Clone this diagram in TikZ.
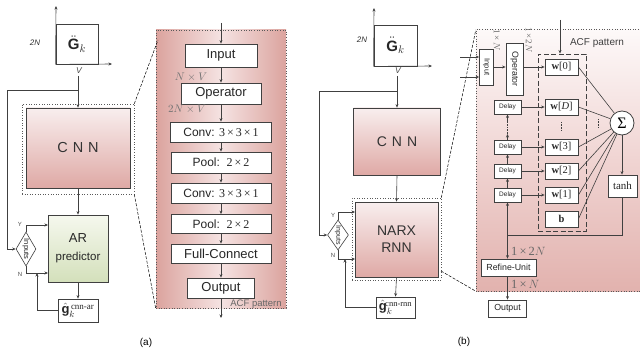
\documentclass[tikz,border=0pt]{standalone}
\usepackage{fontspec}
\usepackage{amsmath}
\setmainfont{Liberation Sans}
\newfontfamily\serfam{Liberation Serif}
\usetikzlibrary{arrows.meta,shapes.geometric,calc}
\newcommand\fsz[1]{\fontsize{#1}{#1}\selectfont}
\newcommand\tx{\,×\,}

\definecolor{edge}{HTML}{404040}
\definecolor{cnnTop}{HTML}{F8EEEE}
\definecolor{cnnBot}{HTML}{DFA9A5}
\definecolor{arTop}{HTML}{F5F8EE}
\definecolor{arBot}{HTML}{D4E0BB}
\definecolor{panEdge}{HTML}{DBA39E}
\definecolor{panMid}{HTML}{F5E3E2}
\definecolor{pbTop}{HTML}{FDF9F9}
\definecolor{pbMid}{HTML}{F0D4D2}
\definecolor{pbBot}{HTML}{E2B2AE}

\begin{document}
\begin{tikzpicture}[x=1pt,y=-1pt,
  box/.style={draw=edge,line width=0.8pt,fill=white,inner sep=0pt,text=black!85},
  conn/.style={draw=edge,line width=0.6pt,-{Stealth[length=3.5pt,width=3pt]}},
  wire/.style={draw=edge,line width=0.6pt},
  zoomline/.style={draw=black,line width=0.5pt,dash pattern=on 3pt off 1.5pt},
  frame/.style={draw=black!65,line width=0.6pt,dotted},
  lbl/.style={inner sep=0pt,text=black!70},
  vtext/.style={rotate=-90,inner sep=0pt,text=black!85}]
\useasboundingbox (0,0) rectangle (640,350);

% ================= (a) =================
% zoomed ACF panel
\node[frame,inner sep=0pt,minimum width=130pt,minimum height=278pt,
      left color=panEdge,right color=panEdge,middle color=panMid] (panA) at (221,169) {};

% input matrix with its axes
\node[box,minimum width=42pt,minimum height=40pt] (gA) at (77,44) {\fsz{15}$\ddot{\mathbf{G}}_k$};
\coordinate (gAtop) at (56,6);
\coordinate (gAright) at (112,64);
\draw[conn] (gA.south west) -- (gAtop);
\draw[conn] (gA.south west) -- (gAright);
\node[lbl,font=\fsz{8}\itshape,text=black!80] at (35,43) {2N};
\node[lbl,font=\fsz{8.5}\itshape] at (79,71) {V};

% CNN block
\node[frame,inner sep=0pt,minimum width=112pt,minimum height=90pt] (dotA) at (78,149) {};
\node[box,minimum width=104pt,minimum height=80pt,top color=cnnTop,bottom color=cnnBot,
      font=\fsz{14.5},text=black!80] (cnnA) at (78,148) {C\hspace{5pt}N\hspace{5pt}N};

% AR predictor
\node[box,minimum width=60pt,minimum height=67pt,top color=arTop,bottom color=arBot,
      align=center,font=\fontsize{13}{18}\selectfont] (arA) at (78,248.5) {AR\\{\fsz{11.5}predictor}};

% input selector
\node[draw=edge,line width=0.6pt,fill=white,diamond,inner sep=0pt,
      minimum width=20pt,minimum height=34pt] (dA) at (26,249) {};
\node[vtext,font=\fsz{7.5}] at (dA) {Inputs};
\node[lbl,font=\fsz{6}] at (20,224) {Y};
\node[lbl,font=\fsz{6}] at (20,274) {N};

% prediction output
\node[box,minimum width=40pt,minimum height=23pt,font=\fsz{13}] (ghA) at (78,310.5)
  {$\hat{\mathbf{g}}_k^{\,\text{\serfam\fsz{9}cnn-ar}}$};

% connectors of (a)
\coordinate (vA) at (78,76);
\coordinate (jA) at (78,90);
\coordinate (lA) at (7,249);
\coordinate (yA) at (48,225);
\coordinate (nA) at (48,273);
\coordinate (nAj) at (37,273);
\draw[conn] (vA) -- (cnnA.north);
\draw[conn] (jA) -| (lA) -- (dA.west);
\draw[conn] (dA.north) |- (yA);
\draw[conn] (dA.south) |- (nA);
\draw[conn] (cnnA.south) -- (arA.north);
\draw[conn] (arA.south) -- (ghA.north);
\draw[conn] (ghA.west) -| (nAj);

% zoom lines
\coordinate (zA) at (158,40);
\draw[zoomline] (dotA.north east) -- (zA);
\draw[zoomline] (dotA.south east) -- (panA.south west);

% layers inside the ACF panel
\begin{scope}[every node/.append style={font=\fsz{13}}]
\node[box,minimum width=72pt,minimum height=23pt] (inA) at (221,55.5) {Input};
\node[box,minimum width=80pt,minimum height=21pt] (opA) at (221,93.5) {Operator};
\node[box,minimum width=101pt,minimum height=20pt] (cv1) at (221,132) {\fsz{12}Conv: {\serfam 3\tx3\tx1}};
\node[box,minimum width=100pt,minimum height=21pt] (pl1) at (221,162.5) {\fsz{12}Pool:\ \ {\serfam 2\tx2}\hspace{12pt}};
\node[box,minimum width=100pt,minimum height=20pt] (cv2) at (221,193) {\fsz{12}Conv: {\serfam 3\tx3\tx1}};
\node[box,minimum width=100pt,minimum height=19pt] (pl2) at (221,224) {\fsz{12}Pool:\ \ {\serfam 2\tx2}\hspace{12pt}};
\node[box,minimum width=100pt,minimum height=19pt] (fc) at (221,253.5) {Full-Connect};
\node[box,minimum width=67pt,minimum height=20pt] (outA) at (221,288) {Output};
\end{scope}
\coordinate (topA) at (221,23);
\coordinate (botA) at (221,318);
\draw[conn] (topA) -- (inA.north);
\draw[conn] (inA.south) -- (opA.north);
\draw[conn] (opA.south) -- (cv1.north);
\draw[conn] (cv1.south) -- (pl1.north);
\draw[conn] (pl1.south) -- (cv2.north);
\draw[conn] (cv2.south) -- (pl2.north);
\draw[conn] (pl2.south) -- (fc.north);
\draw[conn] (fc.south) -- (outA.north);
\draw[conn] (outA.south) -- (botA);
\node[lbl,font=\fsz{10.5},text=black!55] at (191,77) {$N\times V$};
\node[lbl,font=\fsz{10.5},text=black!55] at (187,109) {$2N\times V$};
\node[lbl,font=\fsz{9.5},text=black!60] at (256,304) {ACF pattern};
\node[lbl,font=\fsz{10},text=black] at (146,343) {(a)};

% ================= (b) =================
\node[inner sep=0pt,minimum width=165pt,minimum height=261pt,
      top color=pbTop,bottom color=pbBot,middle color=pbMid] (panB) at (558.5,160.5) {};
\draw[frame] (panB.north east) -- (panB.north west) -- (panB.south west) -- (panB.south east);

% input matrix with its axes
\node[box,minimum width=43pt,minimum height=41pt] (gB) at (395.5,45.5) {\fsz{15}$\ddot{\mathbf{G}}_k$};
\coordinate (gBtop) at (374,8);
\coordinate (gBright) at (432,66);
\draw[conn] (gB.south west) -- (gBtop);
\draw[conn] (gB.south west) -- (gBright);
\node[lbl,font=\fsz{8}\itshape,text=black!80] at (362,40) {2N};
\node[lbl,font=\fsz{8.5}\itshape] at (398,71) {V};

% CNN and NARX RNN
\node[box,minimum width=87pt,minimum height=67pt,top color=cnnTop,bottom color=cnnBot,
      font=\fsz{14},text=black!80] (cnnB) at (397,141.5) {C\hspace{5pt}N\hspace{5pt}N};
\node[frame,inner sep=0pt,minimum width=89pt,minimum height=82pt] (dotB) at (396.5,239) {};
\node[box,minimum width=83pt,minimum height=75pt,top color=cnnTop,bottom color=cnnBot,
      align=center,font=\fontsize{14}{17}\selectfont,text=black!80] (narx) at (396.5,239.5) {NARX\\RNN};

% input selector
\node[draw=edge,line width=0.6pt,fill=white,diamond,inner sep=0pt,
      minimum width=21pt,minimum height=30pt] (dB) at (338,235) {};
\node[vtext,font=\fsz{7}] at (dB) {Inputs};
\node[lbl,font=\fsz{6}] at (333,215) {Y};
\node[lbl,font=\fsz{6}] at (333,255) {N};

\node[box,minimum width=39pt,minimum height=21pt,font=\fsz{13}] (ghB) at (395.5,307.5)
  {$\hat{\mathbf{g}}_k^{\!\text{\serfam\fsz{8.5}cnn-rnn}}$};

% connectors of (b)
\coordinate (vB) at (397,76);
\coordinate (jB) at (397,91);
\coordinate (lB) at (319,235);
\coordinate (yB) at (355,212);
\coordinate (nB) at (355,259);
\coordinate (nBj) at (345,259);
\draw[conn] (vB) -- (cnnB.north);
\draw[conn] (jB) -| (lB) -- (dB.west);
\draw[conn] (dB.north) |- (yB);
\draw[conn] (dB.south) |- (nB);
\draw[conn] (cnnB.south) -- (narx.north);
\draw[conn] (narx.south) -- (ghB.north);
\draw[conn] (ghB.west) -| (nBj);

% zoom lines
\coordinate (zB) at (441,271);
\draw[zoomline] (dotB.north east) -- (panB.north west);
\draw[zoomline] (zB) -- (panB.south west);

% NARX internals
\node[lbl,font=\fsz{10},text=black!75] at (597,43) {ACF pattern};
\node[box,minimum width=14pt,minimum height=36pt] (inB) at (486.5,67) {};
\node[vtext,font=\fsz{7.5}] at (inB) {Input};
\node[box,minimum width=17pt,minimum height=52pt] (opB) at (514.5,69) {};
\node[vtext,font=\fsz{8.8}] at (opB) {Operator};
\node[lbl,rotate=-90,font=\fsz{9},text=black!60] at (497,40) {{\serfam 1\,×}\,$N$};
\node[lbl,rotate=-90,font=\fsz{9},text=black!60] at (529,40) {{\serfam 1\,×\,2}$N$};
\coordinate (s1) at (460,57);
\coordinate (s2) at (460,77);
\draw[conn] (s1) -- (inB.west |- s1);
\draw[conn] (s2) -- (inB.west |- s2);
\draw[conn] (inB.east) -- (opB.west |- inB.east);

% weight column
\node[draw=edge,line width=0.9pt,dash pattern=on 5pt off 2.5pt,inner sep=0pt,
      minimum width=48pt,minimum height=177pt] (wcol) at (562,142.5) {};
\coordinate (topB) at (560,20);
\draw[conn] (topB) -- (topB |- wcol.north);
\begin{scope}[every node/.append style={box,minimum width=33pt,minimum height=16pt,font=\fsz{10.5}\serfam}]
\node (w0) at (561.5,67) {\textbf{w}[0]};
\node (wD) at (561.5,107) {\textbf{w}[\textit{D}]};
\node (w3) at (561.5,147) {\textbf{w}[3]};
\node (w2) at (561.5,171) {\textbf{w}[2]};
\node (w1) at (561.5,195) {\textbf{w}[1]};
\node (wb) at (561.5,219) {\textbf{b}};
\end{scope}
\draw[conn] (opB.east |- w0) -- (w0.west);

% delay chain
\begin{scope}[every node/.append style={box,minimum width=27pt,minimum height=14pt,font=\fsz{6.5}}]
\node (dD) at (507.5,107) {Delay};
\node (d3) at (507.5,147) {Delay};
\node (d2) at (507.5,171) {Delay};
\node (d1) at (507.5,195) {Delay};
\end{scope}
\draw[conn] (dD.east) -- (wD.west);
\draw[conn] (d3.east) -- (w3.west);
\draw[conn] (d2.east) -- (w2.west);
\draw[conn] (d1.east) -- (w1.west);
\draw[conn] (d1.north) -- (d2.south);
\draw[conn] (d2.north) -- (d3.south);
\coordinate (c3) at (507.5,134);
\coordinate (cD) at (507.5,121);
\draw[conn] (d3.north) -- (c3);
\draw[wire,densely dotted] (c3) -- (cD);
\draw[conn] (cD) -- (dD.south);
\draw[wire,densely dotted] (561.5,122) -- (561.5,131);
\draw[wire,densely dotted] (598,119) -- (598,128);

% summation and activation
\node[draw=edge,line width=0.8pt,fill=white,circle,inner sep=0pt,minimum size=24pt,
      font=\fsz{16}\serfam] (sig) at (622,123) {Σ};
\node[box,minimum width=29pt,minimum height=22pt,font=\fsz{11}\serfam] (tanh) at (622.5,186) {tanh};
\foreach \w in {w0,wD,w3,w2,w1,wb} \draw[wire] (\w.east) -- (sig);
\draw[conn] (sig.south) -- (tanh.north -| sig.south);

% refinement and output
\node[box,minimum width=55pt,minimum height=17pt,font=\fsz{8.8}] (ref) at (508.5,267.5) {Refine-Unit};
\node[box,minimum width=38pt,minimum height=17pt,font=\fsz{8.8}] (outB) at (507.5,308.5) {Output};
\coordinate (fb) at (507.5,235);
\draw[wire] (tanh.south) |- (fb);
\draw[conn] (fb) -- (d1.south);
\draw[conn] (fb) -- (fb |- ref.north);
\draw[conn] (ref.south -| outB) -- (outB.north);
\node[lbl,anchor=west,font=\fsz{12.5},text=black!60] at (511,251) {{\serfam 1\,×\,2}$N$};
\node[lbl,anchor=west,font=\fsz{12.5},text=black!60] at (511,284) {{\serfam 1\,×}\,$N$};
\node[lbl,font=\fsz{10},text=black] at (464,342) {(b)};
\end{tikzpicture}
\end{document}
